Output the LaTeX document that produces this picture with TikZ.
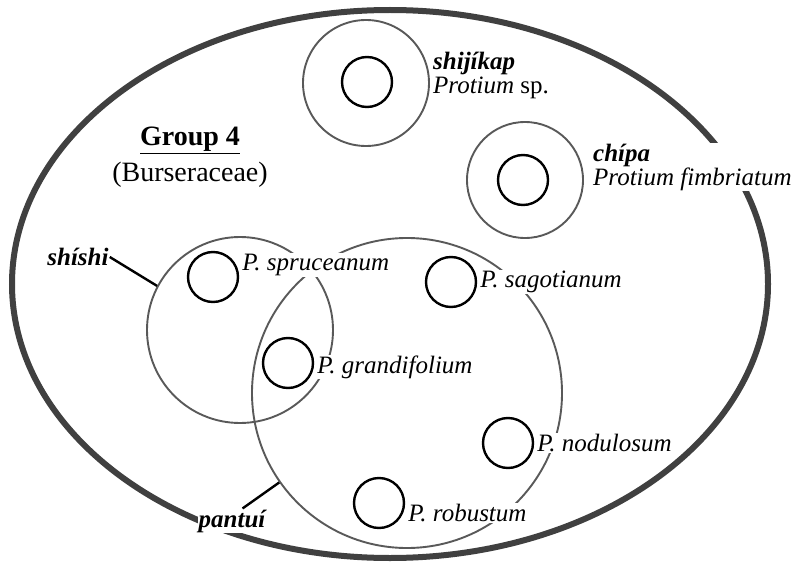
\documentclass[tikz,border=0pt]{standalone}
\usepackage{fontspec}
\setmainfont{Liberation Serif}
\usetikzlibrary{positioning}

\begin{document}
\begin{tikzpicture}[x=1pt,y=-1pt,
  ring/.style={circle,draw=black!65,line width=1.9pt,inner sep=0pt},
  dot/.style={circle,draw=black,line width=2.4pt,inner sep=0pt,minimum size=50pt},
  sp/.style={font=\fontsize{25}{24}\selectfont\itshape,anchor=west,fill=white,inner sep=1pt,align=left},
  folk/.style={font=\fontsize{25}{24}\selectfont\bfseries\itshape,fill=white,inner sep=1pt},
  lead/.style={line width=2.4pt}]

\useasboundingbox (0,0) rectangle (803,567);

% the whole group
\draw[line width=6pt,black!75] (390,284) ellipse [x radius=378, y radius=274];

\node[font=\fontsize{28}{32}\selectfont\bfseries,anchor=base] (grp) at (190,146) {\underline{Group 4}};
\node[font=\fontsize{28}{32}\selectfont,anchor=base] (fam) at (190,182) {(Burseraceae)};

% folk taxa
\node[ring,minimum size=126pt] (shij) at (366,83) {};
\node[ring,minimum size=116pt] (chip) at (525,180) {};
\node[ring,minimum size=186pt] (shishi) at (240,330) {};
\node[ring,minimum size=310pt] (pantui) at (407,393) {};

\node[sp] (shijlbl) at (432,75) {\textbf{shijíkap}\\Protium \textup{sp.}};
\node[sp] (chiplbl) at (592,167) {\textbf{chípa}\\Protium fimbriatum};

% species
\node[dot] (shijsp) at (367,82) {};
\node[dot] (chipsp) at (523,180) {};
\node[dot] (spr) at (213,277) {};
\node[dot] (sag) at (451,282) {};
\node[dot] (gra) at (288,363) {};
\node[dot] (nod) at (508,443) {};
\node[dot] (rob) at (379,503) {};

\node[sp,right=2pt of spr,yshift=12pt] (sprlbl) {P. spruceanum};
\node[sp,right=2pt of sag] (saglbl) {P. sagotianum};
\node[sp,right=2pt of gra,yshift=-4pt] (gralbl) {P. grandifolium};
\node[sp,right=2pt of nod] (nodlbl) {P. nodulosum};
\node[sp,right=2pt of rob,yshift=-10pt] (roblbl) {P. robustum};

\node[folk] (shishilbl) at (78,257) {shíshi};
\node[folk] (pantuilbl) at (232,521) {pantuí};
\draw[lead] (shishilbl.east) -- (shishi.152);
\draw[lead] (pantuilbl.50) -- (pantui.215);
\end{tikzpicture}
\end{document}
